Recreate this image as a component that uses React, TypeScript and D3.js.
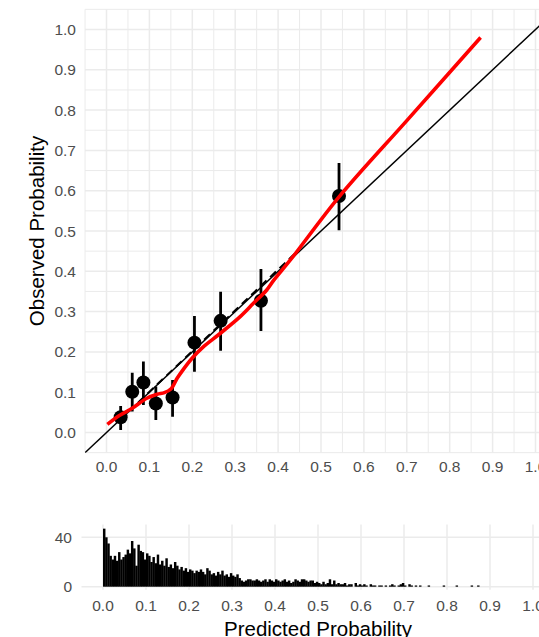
import React from "react";
import * as d3 from "d3";

// calibration points (mean predicted vs observed) with 95% intervals
const predMean = [0.033, 0.06, 0.086, 0.115, 0.154, 0.205, 0.266, 0.36, 0.542];
const obsMean = [0.038, 0.101, 0.124, 0.072, 0.087, 0.223, 0.277, 0.327, 0.587];
const obsLow = [0.006, 0.052, 0.068, 0.031, 0.039, 0.151, 0.203, 0.252, 0.502];
const obsHigh = [0.066, 0.148, 0.176, 0.114, 0.13, 0.289, 0.349, 0.406, 0.669];

// loess smooth (red)
const smoothX = [0.002, 0.03, 0.06, 0.094, 0.118, 0.135, 0.15, 0.165, 0.18, 0.2, 0.225, 0.264, 0.311, 0.342, 0.373, 0.39, 0.43, 0.543, 0.7, 0.872];
const smoothY = [0.02, 0.042, 0.06, 0.085, 0.095, 0.099, 0.108, 0.135, 0.158, 0.185, 0.212, 0.245, 0.287, 0.32, 0.353, 0.378, 0.43, 0.586, 0.774, 0.98];

// linear fit through the groups (dashed)
const fitX = [0.03, 0.45];
const fitY = [0.03, 0.455];

// histogram of predicted probabilities, bins of 0.005 starting at 0
const binWidth = 0.005;
const histCounts = [
  47, 40, 35, 25, 22, 25, 21, 28, 22, 24,
  26, 30, 27, 37, 31, 17, 34, 29, 28, 22,
  27, 25, 20, 24, 19, 26, 18, 21, 17, 23,
  16, 18, 15, 20, 17, 14, 16, 13, 15, 12,
  14, 13, 11, 13, 12, 14, 12, 10, 15, 13,
  10, 11, 9, 12, 10, 13, 9, 10, 8, 11,
  9, 8, 10, 7, 5, 4, 5, 6, 6, 5,
  5, 6, 5, 4, 5, 6, 4, 6, 5, 4,
  6, 5, 4, 5, 6, 4, 5, 3, 4, 6,
  5, 4, 6, 6, 5, 4, 5, 5, 3, 4,
  3, 2, 4, 2, 3, 6, 2, 5, 2, 3,
  2, 2, 3, 1, 2, 2, 0, 3, 1, 2,
  1, 2, 1, 0, 2, 1, 1, 0, 1, 1,
  0, 1, 0, 1, 2, 1, 0, 1, 2, 3,
  1, 0, 2, 1, 0, 1, 0, 1, 0, 0,
  0, 1, 0, 0, 0, 0, 0, 0, 1, 0,
  0, 0, 0, 0, 1, 0, 0, 0, 0, 0,
  0, 1, 0, 0, 1, 0,
];

const probTicks = [0, 0.1, 0.2, 0.3, 0.4, 0.5, 0.6, 0.7, 0.8, 0.9, 1.0];
const probMinor = [-0.05, 0.05, 0.15, 0.25, 0.35, 0.45, 0.55, 0.65, 0.75, 0.85, 0.95, 1.05];
const countTicks = [0, 40];

const W = 539;
const H = 637;
const GRID = "#ebebeb";
const TICK_COL = "#4d4d4d";
const FONT = "'Liberation Sans', Arial, sans-serif";

export default function App() {
  // main calibration panel
  const x = d3.scaleLinear().domain([-0.05, 1.05]).range([85.05, 556.95]);
  const y = d3.scaleLinear().domain([-0.05, 1.05]).range([452.65, 9.35]);
  // histogram panel
  const hx = d3.scaleLinear().domain([-0.05, 1.05]).range([81.5, 554.5]);
  const hy = d3.scaleLinear().domain([0, 40]).range([586.7, 537.3]);
  const hTop = 524.5;
  const hBottom = 589.7;

  const smooth = smoothX.map((v, i) => [v, smoothY[i]] as [number, number]);
  const smoothLine = d3
    .line<[number, number]>()
    .x((d) => x(d[0]))
    .y((d) => y(d[1]))
    .curve(d3.curveCatmullRom.alpha(0.5));

  const bins = histCounts.map((c, i) => ({ x0: i * binWidth, x1: (i + 1) * binWidth, n: c }));

  return (
    <div style={{ position: "absolute", left: 0, top: 0 }}>
      <svg width={W} height={H} style={{ display: "block", fontFamily: FONT }}>
        <defs>
          <clipPath id="mainClip">
            <rect x={x(-0.05)} y={y(1.05)} width={x(1.05) - x(-0.05)} height={y(-0.05) - y(1.05)} />
          </clipPath>
        </defs>

        {/* grid - main panel */}
        <g>
          {probMinor.map((v) => (
            <line key={"vx" + v} x1={x(v)} x2={x(v)} y1={y(-0.05)} y2={y(1.05)} stroke={GRID} strokeWidth={1} />
          ))}
          {probMinor.map((v) => (
            <line key={"vy" + v} y1={y(v)} y2={y(v)} x1={x(-0.05)} x2={x(1.05)} stroke={GRID} strokeWidth={1} />
          ))}
          {probTicks.map((v) => (
            <line key={"mx" + v} x1={x(v)} x2={x(v)} y1={y(-0.05)} y2={y(1.05)} stroke={GRID} strokeWidth={1.5} />
          ))}
          {probTicks.map((v) => (
            <line key={"my" + v} y1={y(v)} y2={y(v)} x1={x(-0.05)} x2={x(1.05)} stroke={GRID} strokeWidth={1.5} />
          ))}
        </g>

        <g clipPath="url(#mainClip)">
          {/* identity line */}
          <line x1={x(-0.1)} y1={y(-0.1)} x2={x(1.1)} y2={y(1.1)} stroke="#000" strokeWidth={1.5} />
          {/* linear fit */}
          <line
            x1={x(fitX[0])}
            y1={y(fitY[0])}
            x2={x(fitX[1])}
            y2={y(fitY[1])}
            stroke="#000"
            strokeWidth={2}
            strokeDasharray="8,5"
          />
          {/* error bars and points */}
          {predMean.map((p, i) => (
            <line key={"e" + i} x1={x(p)} x2={x(p)} y1={y(obsLow[i])} y2={y(obsHigh[i])} stroke="#000" strokeWidth={2.8} />
          ))}
          {predMean.map((p, i) => (
            <circle key={"p" + i} cx={x(p)} cy={y(obsMean[i])} r={7} fill="#000" />
          ))}
          {/* smooth */}
          <path d={smoothLine(smooth) || ""} fill="none" stroke="#ff0000" strokeWidth={3.6} strokeLinecap="butt" />
        </g>

        {/* main axes labels */}
        {probTicks.map((v) => (
          <text key={"ty" + v} x={76} y={y(v) + 5.5} textAnchor="end" fontSize={15.5} fill={TICK_COL}>
            {v.toFixed(1)}
          </text>
        ))}
        {probTicks.map((v) => (
          <text key={"tx" + v} x={x(v)} y={471.5} textAnchor="middle" fontSize={15.5} fill={TICK_COL}>
            {v.toFixed(1)}
          </text>
        ))}
        <text
          transform={`translate(43.5, ${(y(-0.05) + y(1.05)) / 2}) rotate(-90)`}
          textAnchor="middle"
          fontSize={20.5}
          fill="#000"
        >
          Observed Probability
        </text>

        {/* histogram panel grid */}
        <g>
          {probTicks.map((v) => (
            <line key={"hx" + v} x1={hx(v)} x2={hx(v)} y1={hBottom} y2={hTop} stroke={GRID} strokeWidth={1.5} />
          ))}
          {countTicks.map((v) => (
            <line key={"hy" + v} y1={hy(v)} y2={hy(v)} x1={hx(-0.05)} x2={hx(1.05)} stroke={GRID} strokeWidth={1.5} />
          ))}
        </g>
        <g>
          {bins
            .filter((b) => b.n > 0)
            .map((b, i) => (
              <rect
                key={"b" + i}
                x={hx(b.x0)}
                width={hx(b.x1) - hx(b.x0) + 0.3}
                y={hy(b.n)}
                height={hy(0) - hy(b.n)}
                fill="#000"
              />
            ))}
        </g>
        {countTicks.map((v) => (
          <text key={"hty" + v} x={72} y={hy(v) + 5.5} textAnchor="end" fontSize={15.5} fill={TICK_COL}>
            {v}
          </text>
        ))}
        {probTicks.map((v) => (
          <text key={"htx" + v} x={hx(v)} y={610.5} textAnchor="middle" fontSize={15.5} fill={TICK_COL}>
            {v.toFixed(1)}
          </text>
        ))}
        <text x={(hx(-0.05) + hx(1.05)) / 2} y={635.7} textAnchor="middle" fontSize={20.5} fill="#000">
          Predicted Probability
        </text>
      </svg>
    </div>
  );
}
